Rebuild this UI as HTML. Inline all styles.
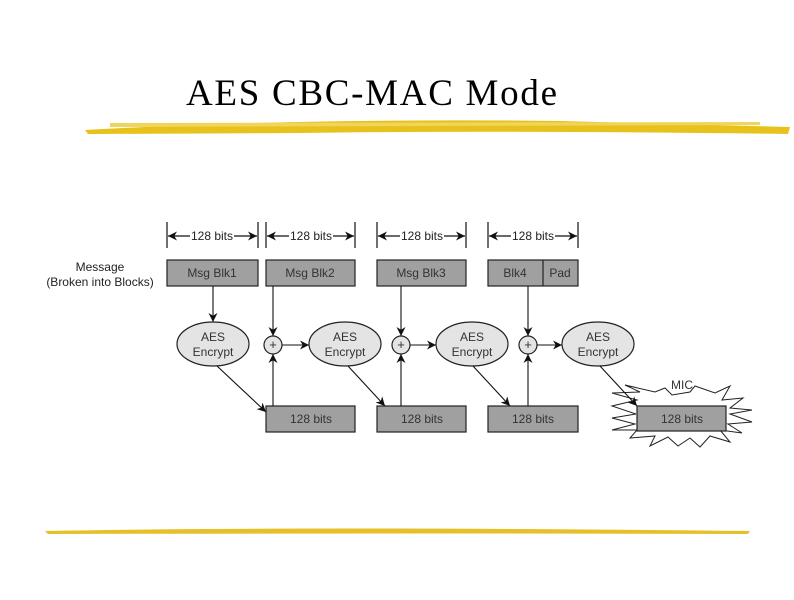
<!DOCTYPE html>
<html><head><style>
body{margin:0;background:#fff;width:794px;height:595px;overflow:hidden}
</style></head><body>
<svg width="794" height="595" viewBox="0 0 794 595" xmlns="http://www.w3.org/2000/svg" font-family="Liberation Sans, sans-serif">
<defs>
<marker id="a" viewBox="0 0 10 10" refX="10" refY="5" markerWidth="9" markerHeight="9" orient="auto-start-reverse" markerUnits="userSpaceOnUse"><path d="M0,0 L10,5 L0,10 L3,5 z" fill="#111"/></marker>
</defs>
<text x="186" y="105" font-family="Liberation Serif, serif" font-size="37" fill="#000" textLength="371">AES CBC-MAC Mode</text>
<path d="M85,130 Q300,118 560,121 L790,127 L788,134 Q500,130 300,133 L88,134 z" fill="#e8c21c"/>
<path d="M110,123 L760,122 L760,125 L110,127z" fill="#f1d45a"/>
<path d="M45,531 Q300,526 750,531 L748,534 Q400,533 48,534 z" fill="#e5c028"/>
<g stroke="#111" stroke-width="1.2" fill="none">
<line x1="167" y1="222" x2="167" y2="248"/><line x1="258" y1="222" x2="258" y2="248"/>
<line x1="266" y1="222" x2="266" y2="248"/><line x1="355" y1="222" x2="355" y2="248"/>
<line x1="377" y1="222" x2="377" y2="248"/><line x1="466" y1="222" x2="466" y2="248"/>
<line x1="488" y1="222" x2="488" y2="248"/><line x1="578" y1="222" x2="578" y2="248"/>
<line x1="168" y1="236" x2="190" y2="236" marker-start="url(#a)"/><line x1="234" y1="236" x2="257" y2="236" marker-end="url(#a)"/>
<line x1="267" y1="236" x2="289" y2="236" marker-start="url(#a)"/><line x1="333" y1="236" x2="354" y2="236" marker-end="url(#a)"/>
<line x1="378" y1="236" x2="400" y2="236" marker-start="url(#a)"/><line x1="444" y1="236" x2="465" y2="236" marker-end="url(#a)"/>
<line x1="489" y1="236" x2="511" y2="236" marker-start="url(#a)"/><line x1="555" y1="236" x2="577" y2="236" marker-end="url(#a)"/>
</g>
<g font-size="12" fill="#222" text-anchor="middle">
<text x="212" y="240">128 bits</text><text x="311" y="240">128 bits</text><text x="422" y="240">128 bits</text><text x="533" y="240">128 bits</text>
<text x="100" y="271">Message</text><text x="100" y="286">(Broken into Blocks)</text>
</g>
<g fill="#a0a0a0" stroke="#222" stroke-width="1.2">
<rect x="167" y="260" width="91" height="26"/><rect x="266" y="260" width="89" height="26"/>
<rect x="377" y="260" width="89" height="26"/><rect x="488" y="260" width="90" height="26"/>
<rect x="266" y="406" width="89" height="26"/><rect x="377" y="406" width="89" height="26"/>
<rect x="488" y="406" width="90" height="26"/>
</g>
<line x1="543" y1="260" x2="543" y2="286" stroke="#222" stroke-width="1.2"/>
<path d="M637,400 L612,393 L640,392 L625,385 L655,392 L665,388 L672,395 L690,392 L695,386 L715,393 L730,386 L722,400 L743,398 L730,408 L752,410 L730,414 L752,422 L728,424 L742,433 L720,430 L730,442 L710,436 L700,447 L690,438 L678,446 L668,437 L650,446 L655,436 L630,438 L637,430 L612,430 L635,424 L612,418 L636,414 L612,406 Z" fill="#fff" stroke="#222" stroke-width="1"/>
<rect x="637" y="406" width="89" height="25" fill="#a0a0a0" stroke="#222" stroke-width="1.2"/>
<g fill="#e4e4e4" stroke="#222" stroke-width="1.2">
<ellipse cx="213" cy="344" rx="36" ry="22"/><ellipse cx="345" cy="344" rx="36" ry="22"/>
<ellipse cx="472" cy="344" rx="36" ry="22"/><ellipse cx="598" cy="344" rx="36" ry="22"/>
<circle cx="273" cy="345" r="9"/><circle cx="401" cy="345" r="9"/><circle cx="528" cy="345" r="9"/>
</g>
<g font-size="12" fill="#333" text-anchor="middle">
<text x="212" y="277">Msg Blk1</text><text x="310" y="277">Msg Blk2</text><text x="421" y="277">Msg Blk3</text>
<text x="515" y="277">Blk4</text><text x="560" y="277">Pad</text>
<text x="213" y="341">AES</text><text x="213" y="356">Encrypt</text>
<text x="345" y="341">AES</text><text x="345" y="356">Encrypt</text>
<text x="472" y="341">AES</text><text x="472" y="356">Encrypt</text>
<text x="598" y="341">AES</text><text x="598" y="356">Encrypt</text>
<text x="311" y="423">128 bits</text><text x="422" y="423">128 bits</text><text x="533" y="423">128 bits</text><text x="682" y="423">128 bits</text>
<text x="682" y="389">MIC</text>
<text x="273" y="349" font-size="13">+</text><text x="401" y="349" font-size="13">+</text><text x="528" y="349" font-size="13">+</text>
</g>
<g stroke="#111" stroke-width="1.1" fill="none">
<line x1="213" y1="286" x2="213" y2="322" marker-end="url(#a)"/>
<line x1="273" y1="286" x2="273" y2="336" marker-end="url(#a)"/>
<line x1="401" y1="286" x2="401" y2="336" marker-end="url(#a)"/>
<line x1="528" y1="286" x2="528" y2="336" marker-end="url(#a)"/>
<line x1="273" y1="406" x2="273" y2="354" marker-end="url(#a)"/>
<line x1="401" y1="406" x2="401" y2="354" marker-end="url(#a)"/>
<line x1="528" y1="406" x2="528" y2="354" marker-end="url(#a)"/>
<line x1="282" y1="345" x2="309" y2="345" marker-end="url(#a)"/>
<line x1="410" y1="345" x2="436" y2="345" marker-end="url(#a)"/>
<line x1="537" y1="345" x2="562" y2="345" marker-end="url(#a)"/>
<line x1="217" y1="366" x2="266" y2="412" marker-end="url(#a)"/>
<line x1="348" y1="366" x2="385" y2="406" marker-end="url(#a)"/>
<line x1="473" y1="366" x2="510" y2="406" marker-end="url(#a)"/>
<line x1="600" y1="366" x2="637" y2="406" marker-end="url(#a)"/>
</g>
</svg>
</body></html>
